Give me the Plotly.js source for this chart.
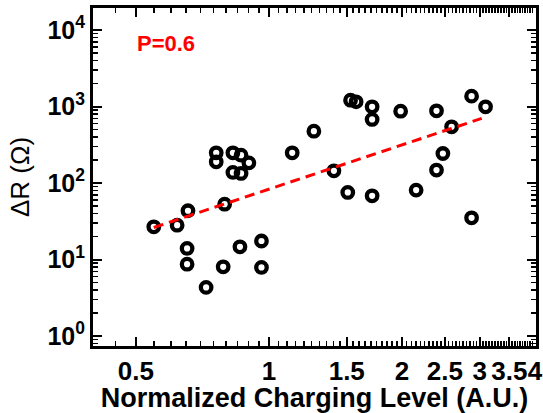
<!DOCTYPE html>
<html>
<head>
<meta charset="utf-8">
<script src="https://cdn.plot.ly/plotly-3.0.1.min.js"></script>
<style>html,body{margin:0;padding:0;background:#fff;}#chart{width:543px;height:413px;}</style>
</head>
<body>
<div id="chart"></div>
<script>
// Measured data (normalized charging level vs delta R)
const chargingLevel = [0.549, 0.620, 0.656, 0.653, 0.653, 0.721, 0.788, 0.794, 0.860, 0.962, 0.962,
  0.760, 0.760, 0.829, 0.865, 0.901, 0.829, 0.865, 1.129, 1.264, 1.403, 1.508, 1.530, 1.575,
  1.712, 1.712, 1.712, 1.986, 2.153, 2.394, 2.394, 2.475, 2.590, 2.874, 3.091, 2.874];
const deltaR = [26.8, 28.2, 43.5, 14.0, 8.7, 4.33, 8.05, 53, 14.7, 17.5, 7.9,
  249, 190, 249, 232, 184, 138, 134, 249, 478, 145, 75.5, 1216, 1156,
  995, 680, 68.3, 873, 81, 881, 148, 244, 545, 1372, 994, 35.2];
const fitX = [0.549, 3.03];
const fitY = [26.3, 702];
const xTickVals = [0.5, 1, 1.5, 2, 2.5, 3, 3.5, 4];
const xTickText = ['0.5', '1', '1.5', '2', '2.5', '3', '3.5', '4'];
const yTickVals = [1, 10, 100, 1000, 10000];
const yTickText = ['10<sup>0</sup>', '10<sup>1</sup>', '10<sup>2</sup>', '10<sup>3</sup>', '10<sup>4</sup>'];
const annotationText = 'P=0.6';

// minor tick positions (axis styling only)
const xMinor = [];
for (let i = 9; i <= 80; i++) { xMinor.push(+(i * 0.05).toFixed(2)); }
const yMinor = [];
for (let p = -1; p <= 4; p++) { for (let m = 2; m <= 9; m++) { yMinor.push(+(m * Math.pow(10, p)).toPrecision(3)); } }

const FONT = 'Liberation Sans, Arial, sans-serif';
const xRange = [Math.log10(0.4), Math.log10(4.02)];
const yRange = [-0.13, 4.29];
const bold = s => '<b>' + s + '</b>';

const traces = [
  { // carrier for the minor-tick axes (invisible)
    x: chargingLevel, y: deltaR, xaxis: 'x2', yaxis: 'y2', type: 'scatter', mode: 'markers',
    marker: {opacity: 0}, hoverinfo: 'skip', showlegend: false
  },
  {
    x: chargingLevel, y: deltaR, type: 'scatter', mode: 'markers',
    marker: {symbol: 'circle-open', size: 10.5, color: '#000', line: {width: 4.3, color: '#000'}},
    showlegend: false
  },
  {
    x: fitX, y: fitY, type: 'scatter', mode: 'lines',
    line: {color: '#ff0000', width: 3, dash: '10px,6px'},
    showlegend: false
  }
];

const layout = {
  width: 543, height: 413,
  margin: {l: 93, r: 7, t: 8, b: 67},
  showlegend: false,
  xaxis2: {type: 'log', overlaying: 'x', range: xRange, tickmode: 'array', tickvals: xMinor,
    ticks: 'inside', ticklen: 5, tickwidth: 1.5, tickcolor: '#000', showticklabels: false,
    mirror: 'ticks', showline: true, linewidth: 3, linecolor: '#000', side: 'bottom', anchor: 'y2', showgrid: false},
  yaxis2: {type: 'log', overlaying: 'y', range: yRange, tickmode: 'array', tickvals: yMinor,
    ticks: 'inside', ticklen: 5, tickwidth: 1.5, tickcolor: '#000', showticklabels: false,
    mirror: 'ticks', showline: true, linewidth: 3, linecolor: '#000', side: 'left', anchor: 'x2', showgrid: false},
  xaxis: {
    type: 'log', range: xRange,
    tickmode: 'array', tickvals: xTickVals, ticktext: xTickText.map(bold), tickangle: 0,
    ticks: 'inside', ticklen: 9, tickwidth: 2, tickcolor: '#000',
    showline: true, linewidth: 3, linecolor: '#000', mirror: 'ticks', showgrid: false,
    tickfont: {family: FONT, size: 26, color: '#000'},
    title: {text: bold('Normalized Charging Level (A.U.)'), font: {family: FONT, size: 27, color: '#000'}, standoff: 4}
  },
  yaxis: {
    type: 'log', range: yRange,
    tickmode: 'array', tickvals: yTickVals, ticktext: yTickText.map(bold),
    ticks: 'inside', ticklen: 9, tickwidth: 2, tickcolor: '#000',
    showline: true, linewidth: 3, linecolor: '#000', mirror: 'ticks', showgrid: false,
    tickfont: {family: FONT, size: 25, color: '#000'},
    title: {text: 'ΔR (Ω)', font: {family: FONT, size: 26, color: '#000'}}
  },
  annotations: [{
    text: bold(annotationText), xref: 'paper', yref: 'paper', x: 0.095, y: 0.896,
    xanchor: 'left', yanchor: 'middle', showarrow: false,
    font: {family: FONT, size: 22, color: '#ff0000'}
  }]
};

Plotly.newPlot('chart', traces, layout, {displayModeBar: false, staticPlot: true});
</script>
</body>
</html>
